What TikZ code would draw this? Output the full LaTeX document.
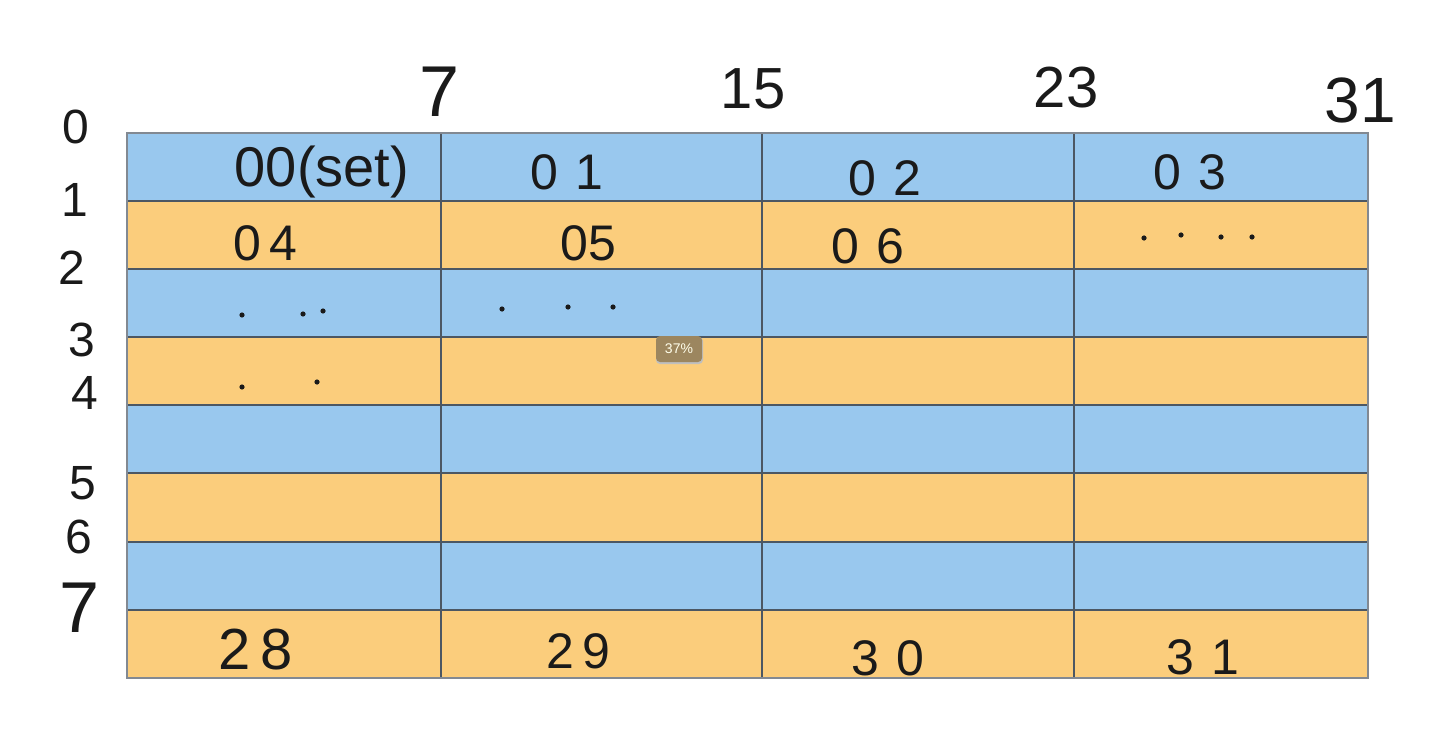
\documentclass[tikz,border=0pt]{standalone}
\usepackage{fontspec}
\setmainfont{Liberation Sans}
\definecolor{cellblue}{HTML}{99C8EE}
\definecolor{cellorange}{HTML}{FBCD7C}
\definecolor{gridline}{HTML}{4C5763}
\definecolor{badgefill}{HTML}{9C865F}
\definecolor{ink}{HTML}{1A1A1A}
\tikzset{
  toplbl/.style={text=ink, inner sep=0pt, font=\fontsize{58}{58}\selectfont},
  sidelbl/.style={text=ink, inner sep=0pt, font=\fontsize{48}{48}\selectfont},
  celltxt/.style={text=ink, inner sep=0pt, font=\fontsize{50}{50}\selectfont},
  gridln/.style={draw=gridline, line width=1.8pt},
  dotmark/.style={fill=ink},
}
\begin{document}
\begin{tikzpicture}[x=1pt,y=-1pt]
\useasboundingbox (0,0) rectangle (1434,743);
\fill[white] (0,0) rectangle (1434,743);
% rows
\foreach \t/\b/\c in {133/201/cellblue,201/269/cellorange,269/337/cellblue,337/405/cellorange,405/473/cellblue,473/542/cellorange,542/610/cellblue,610/678/cellorange}{
  \fill[\c] (127,\t) rectangle (1368,\b);
}
% horizontal lines
\foreach \y in {201,269,337,405,473,542,610}{
  \draw[gridln] (127,\y) -- (1368,\y);
}
% vertical lines
\foreach \x in {441,762,1074}{
  \draw[gridln] (\x,133) -- (\x,678);
}
\draw[draw=gridline!70, line width=1.5pt] (127,133) rectangle (1368,678);
% top labels
\node[toplbl, font=\fontsize{72}{72}\selectfont] (t7) at (440,92) {7};
\node[toplbl] (t15) at (753,89) {15};
\node[toplbl] (t23) at (1066,88) {23};
\node[toplbl, font=\fontsize{64}{64}\selectfont] (t31) at (1360,100) {31};
% side labels
\node[sidelbl] (s0) at (76,127) {0};
\node[sidelbl] (s1) at (75,200) {1};
\node[sidelbl] (s2) at (72,268) {2};
\node[sidelbl] (s3) at (82,340) {3};
\node[sidelbl] (s4) at (85,393) {4};
\node[sidelbl] (s5) at (83,483) {5};
\node[sidelbl] (s6) at (79,537) {6};
\node[sidelbl, font=\fontsize{72}{72}\selectfont] (s7) at (80,608) {7};
% cell texts
\node[celltxt, font=\fontsize{56}{56}\selectfont] (c00) at (322,172) {00(set)};
\node[celltxt] (c01) at (567,172) {0\,\,1};
\node[celltxt] (c02) at (885,178) {0\,\,2};
\node[celltxt] (c03) at (1190,172) {0\,\,3};
\node[celltxt] (c04) at (265,243) {0\,4};
\node[celltxt] (c05) at (588,243) {05};
\node[celltxt] (c06) at (868,246) {0\,\,6};
\node[celltxt, font=\fontsize{58}{58}\selectfont] (c28) at (256,650) {2\,8};
\node[celltxt] (c29) at (578,651) {2\,9};
\node[celltxt] (c30) at (888,658) {3\,\,0};
\node[celltxt] (c31) at (1203,657) {3\,\,1};
% dots
\foreach \p in {(1144,238),(1181,235),(1221,237),(1252,237),
                (242,315),(303,314),(323,311),
                (502,309),(568,307),(613,307),
                (242,387),(317,382)}{
  \fill[dotmark] \p circle (2.6);
}
% badge
\fill[black!25, rounded corners=4pt] (656,337) rectangle (703,364);
\node[fill=badgefill, rounded corners=4pt, minimum width=46pt, minimum height=26pt, inner sep=0pt,
      text=white!92!yellow, font=\fontsize{14}{14}\selectfont] (badge) at (679,349) {37\%};
\end{tikzpicture}
\end{document}
